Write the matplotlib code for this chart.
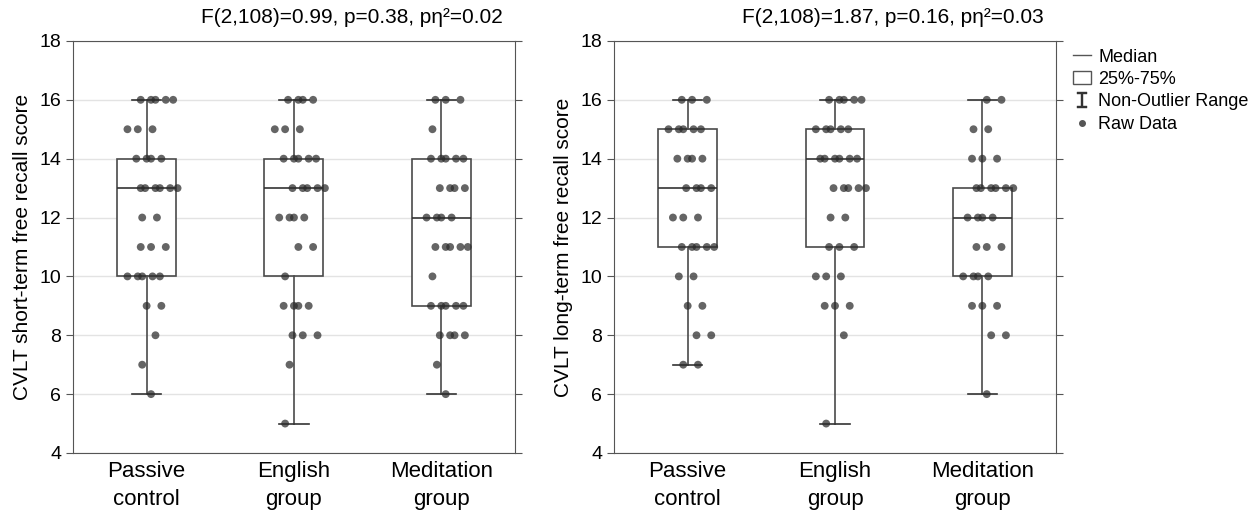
import numpy as np
import matplotlib
matplotlib.use('Agg')
import matplotlib.pyplot as plt
from matplotlib.lines import Line2D
from matplotlib.patches import Patch

plt.rcParams['font.family'] = ['Liberation Sans', 'DejaVu Sans']

groups = ['Passive\ncontrol', 'English\ngroup', 'Meditation\ngroup']

# raw scores (overlapping dots are estimates)
st_passive = [16, 16, 16, 16, 16, 15, 15, 15, 14, 14, 14, 14, 13, 13, 13, 13, 13, 13,
              12, 12, 11, 11, 11, 10, 10, 10, 10, 10, 9, 9, 8, 7, 6]
st_english = [16, 16, 16, 16, 15, 15, 15, 14, 14, 14, 14, 14, 13, 13, 13, 13, 13,
              12, 12, 12, 12, 11, 11, 10, 9, 9, 9, 9, 8, 8, 8, 7, 5]
st_meditation = [16, 16, 16, 15, 14, 14, 14, 14, 14, 13, 13, 13, 13, 12, 12, 12, 12,
                 11, 11, 11, 11, 11, 10, 9, 9, 9, 9, 9, 8, 8, 8, 8, 7, 6]
lt_passive = [16, 16, 16, 15, 15, 15, 15, 15, 14, 14, 14, 14, 13, 13, 13, 13,
              12, 12, 12, 11, 11, 11, 11, 11, 10, 10, 9, 9, 8, 8, 7, 7]
lt_english = [16, 16, 16, 16, 16, 15, 15, 15, 15, 15, 14, 14, 14, 14, 14, 14,
              13, 13, 13, 13, 13, 12, 12, 11, 11, 11, 10, 10, 10, 9, 9, 9, 8, 5]
lt_meditation = [16, 16, 15, 15, 14, 14, 14, 13, 13, 13, 13, 13, 13, 12, 12, 12, 12,
                 11, 11, 11, 10, 10, 10, 10, 9, 9, 9, 8, 8, 6]

# box summaries as drawn (whisker low, q1, median, q3, whisker high)
st_low = [6, 5, 6]
st_q1 = [10, 10, 9]
st_med = [13, 13, 12]
st_q3 = [14, 14, 14]
st_high = [16, 16, 16]
lt_low = [7, 5, 6]
lt_q1 = [11, 11, 10]
lt_med = [13, 14, 12]
lt_q3 = [15, 15, 13]
lt_high = [16, 16, 16]

st_title = 'F(2,108)=0.99, p=0.38, pη²=0.02'
lt_title = 'F(2,108)=1.87, p=0.16, pη²=0.03'
st_ylabel = 'CVLT short-term free recall score'
lt_ylabel = 'CVLT long-term free recall score'

fig = plt.figure(figsize=(12.6, 5.17), dpi=100)
ax1 = fig.add_axes([0.0579, 0.1238, 0.3508, 0.797])
ax2 = fig.add_axes([0.4873, 0.1238, 0.3508, 0.797])


def spread(vals):
    # place repeated values side by side (partly overlapping) around the centre
    vals = np.asarray(vals)
    offs = np.zeros(len(vals))
    pattern = [0.0, 0.1, -0.07, 0.03, 0.15, -0.1, 0.06, -0.03, 0.12]
    for v in np.unique(vals):
        idx = np.where(vals == v)[0]
        shift = 0.03 * ((int(v) * 3) % 5 - 2)
        for k, i in enumerate(idx):
            offs[i] = pattern[k % len(pattern)] + shift
    return offs


def panel(ax, data, low, q1, med, q3, high, title, ylabel):
    stats = []
    for i in range(3):
        stats.append(dict(med=med[i], q1=q1[i], q3=q3[i], whislo=low[i],
                          whishi=high[i], fliers=[]))
    ax.yaxis.grid(True, color='#e3e3e3', linewidth=1)
    ax.set_axisbelow(True)
    ax.bxp(stats, positions=[1, 2, 3], widths=0.4, patch_artist=True,
           showfliers=False,
           boxprops=dict(facecolor='white', edgecolor='#4a4a4a', linewidth=1.2),
           medianprops=dict(color='#333333', linewidth=1.2),
           whiskerprops=dict(color='#4a4a4a', linewidth=1.2),
           capprops=dict(color='#333333', linewidth=1.2))
    for i, vals in enumerate(data):
        x = i + 1 + spread(vals)
        ax.scatter(x, vals, s=32, color='#2a2a2a', alpha=0.72,
                   edgecolors='none', zorder=5)
    ax.set_xlim(0.5, 3.5)
    ax.set_ylim(4, 18)
    ax.set_yticks(np.arange(4, 19, 2))
    ax.set_xticks([1, 2, 3])
    ax.set_xticklabels(groups, fontsize=16, linespacing=1.4)
    ax.tick_params(axis='x', length=0, pad=6)
    ax.tick_params(axis='y', labelsize=14, length=5, direction='out',
                   right=True, color='#555555')
    for s in ax.spines.values():
        s.set_color('#555555')
    ax.set_ylabel(ylabel, fontsize=15, labelpad=5)
    ax.text(0.973, 1.035, title, transform=ax.transAxes, ha='right',
            va='bottom', fontsize=15)


panel(ax1, [st_passive, st_english, st_meditation], st_low, st_q1, st_med,
      st_q3, st_high, st_title, st_ylabel)
panel(ax2, [lt_passive, lt_english, lt_meditation], lt_low, lt_q1, lt_med,
      lt_q3, lt_high, lt_title, lt_ylabel)

handles = [
    Line2D([], [], color='#555555', linewidth=1),
    Patch(facecolor='white', edgecolor='#555555'),
    Line2D([], [], linestyle='none', marker=r'$\mathtt{I}$', markersize=12,
           color='#333333', markeredgewidth=0.3),
    Line2D([], [], linestyle='none', marker='o', markersize=4,
           color='#555555'),
]
labels = ['Median', '25%-75%', 'Non-Outlier Range', 'Raw Data']
fig.legend(handles, labels, loc='upper left', bbox_to_anchor=(0.846, 0.92),
           frameon=False, fontsize=13, handlelength=1.0, handletextpad=0.4,
           labelspacing=0.3, borderaxespad=0)

fig.savefig('out.png', dpi=100)
